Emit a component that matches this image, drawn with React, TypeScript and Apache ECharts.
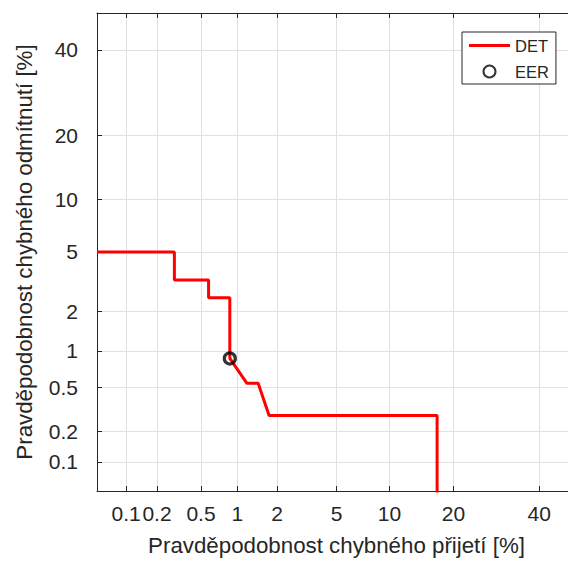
import React, { useEffect, useRef } from 'react';
import * as echarts from 'echarts';

// Tick positions (percent) and their labels
const tickPercents = [0.1, 0.2, 0.5, 1, 2, 5, 10, 20, 40];
const tickLabels = ['0.1', '0.2', '0.5', '1', '2', '5', '10', '20', '40'];

// DET curve: false acceptance [%] vs false rejection [%]
const detFalseAccept = [0.05, 0.29, 0.29, 0.58, 0.58, 0.87, 0.87, 1.19, 1.45, 1.75, 17, 17];
const detFalseReject = [5.0, 5.0, 3.3, 3.3, 2.5, 2.5, 0.87, 0.54, 0.54, 0.28, 0.28, 0.01];

// Equal error rate point
const eerFalseAccept = [0.87];
const eerFalseReject = [0.87];

const axisMinPercent = 0.05;
const axisMaxPercent = 50;

// inverse normal CDF (Acklam)
function probit(p: number): number {
  const a = [-3.969683028665376e1, 2.209460984245205e2, -2.759285104469687e2, 1.38357751867269e2, -3.066479806614716e1, 2.506628277459239];
  const b = [-5.447609879822406e1, 1.615858368580409e2, -1.556989798598866e2, 6.680131188771972e1, -1.328068155288572e1];
  const c = [-7.784894002430293e-3, -3.223964580411365e-1, -2.400758277161838, -2.549732539343734, 4.374664141464968, 2.938163982698783];
  const d = [7.784695709041462e-3, 3.224671290700398e-1, 2.445134137142996, 3.754408661907416];
  const pl = 0.02425;
  const ph = 1 - pl;
  if (p < pl) {
    const q = Math.sqrt(-2 * Math.log(p));
    return (((((c[0] * q + c[1]) * q + c[2]) * q + c[3]) * q + c[4]) * q + c[5]) / ((((d[0] * q + d[1]) * q + d[2]) * q + d[3]) * q + 1);
  }
  if (p <= ph) {
    const q = p - 0.5;
    const r = q * q;
    return ((((((a[0] * r + a[1]) * r + a[2]) * r + a[3]) * r + a[4]) * r + a[5]) * q) / (((((b[0] * r + b[1]) * r + b[2]) * r + b[3]) * r + b[4]) * r + 1);
  }
  const q = Math.sqrt(-2 * Math.log(1 - p));
  return -(((((c[0] * q + c[1]) * q + c[2]) * q + c[3]) * q + c[4]) * q + c[5]) / ((((d[0] * q + d[1]) * q + d[2]) * q + d[3]) * q + 1);
}
const pr = (percent: number) => probit(percent / 100);

export default function App() {
  const ref = useRef<HTMLDivElement>(null);
  useEffect(() => {
    if (!ref.current) return;
    const chart = echarts.init(ref.current, undefined, { renderer: 'svg' });
    const tickValues = tickPercents.map(pr);
    const fmt = (v: number) => {
      let best = 0;
      for (let i = 1; i < tickValues.length; i++) {
        if (Math.abs(tickValues[i] - v) < Math.abs(tickValues[best] - v)) best = i;
      }
      return tickLabels[best];
    };
    const txt = '#262626';
    const gridColor = '#e1e1e1';
    const font = 'Liberation Sans, Arial, Helvetica, sans-serif';
    const minV = pr(axisMinPercent);
    const maxV = pr(axisMaxPercent);
    const baseAxis = {
      type: 'value' as const,
      min: minV,
      max: maxV,
      axisLine: { show: true, onZero: false, lineStyle: { color: txt, width: 1 } },
      axisTick: { show: true, inside: true, length: 5, customValues: tickValues, lineStyle: { color: txt } },
      axisLabel: {
        show: true,
        customValues: tickValues,
        formatter: fmt,
        color: txt,
        fontSize: 21,
        fontFamily: font,
      },
      splitLine: { show: true, lineStyle: { color: gridColor, width: 1 } },
    };
    chart.setOption({
      animation: false,
      backgroundColor: '#ffffff',
      textStyle: { fontFamily: font },
      grid: { left: 97, top: 13, right: 0, bottom: 70, containLabel: false },
      legend: {
        orient: 'vertical',
        left: 462,
        top: 32,
        padding: [5, 7, 4, 7],
        itemGap: 9,
        itemWidth: 41,
        itemHeight: 12,
        itemTextGap: 3,
        borderColor: txt,
        borderWidth: 1,
        backgroundColor: '#fff',
        textStyle: { fontSize: 16.5, color: txt, fontFamily: font },
        data: [{ name: 'DET', icon: 'path://M0,0H41V3H0Z' }, { name: 'EER' }],
      },
      xAxis: [
        {
          ...baseAxis,
          position: 'bottom',
          axisLabel: { ...baseAxis.axisLabel, margin: 12 },
          name: 'Pravděpodobnost chybného přijetí [%]',
          nameLocation: 'middle',
          nameGap: 43,
          nameTextStyle: { fontSize: 22.3, color: txt, fontFamily: font },
        },
        {
          ...baseAxis,
          position: 'top',
          axisLabel: { show: false },
          splitLine: { show: false },
        },
      ],
      yAxis: [
        {
          ...baseAxis,
          position: 'left',
          axisLabel: { ...baseAxis.axisLabel, margin: 19 },
          name: 'Pravděpodobnost chybného odmítnutí [%]',
          nameLocation: 'middle',
          nameGap: 62,
          nameTextStyle: { fontSize: 22.3, color: txt, fontFamily: font },
        },
      ],
      series: [
        {
          name: 'DET',
          type: 'line',
          xAxisIndex: 0,
          yAxisIndex: 0,
          data: detFalseAccept.map((fa, i) => [pr(fa), pr(detFalseReject[i])]),
          symbol: 'none',
          clip: true,
          lineStyle: { color: '#ff0000', width: 3 },
          itemStyle: { color: '#ff0000' },
          z: 3,
        },
        {
          name: 'EER',
          type: 'scatter',
          xAxisIndex: 0,
          yAxisIndex: 0,
          data: eerFalseAccept.map((fa, i) => [pr(fa), pr(eerFalseReject[i])]),
          symbol: 'circle',
          symbolSize: 11,
          itemStyle: { color: 'rgba(0,0,0,0)', borderColor: '#000000', borderWidth: 3.2 },
          z: 4,
        },
      ],
    });
    return () => chart.dispose();
  }, []);
  return (
    <div style={{ position: 'fixed', left: 0, top: 0, width: 568, height: 561, overflow: 'hidden', background: '#fff' }}>
      <div ref={ref} style={{ width: 576, height: 561 }} />
    </div>
  );
}
